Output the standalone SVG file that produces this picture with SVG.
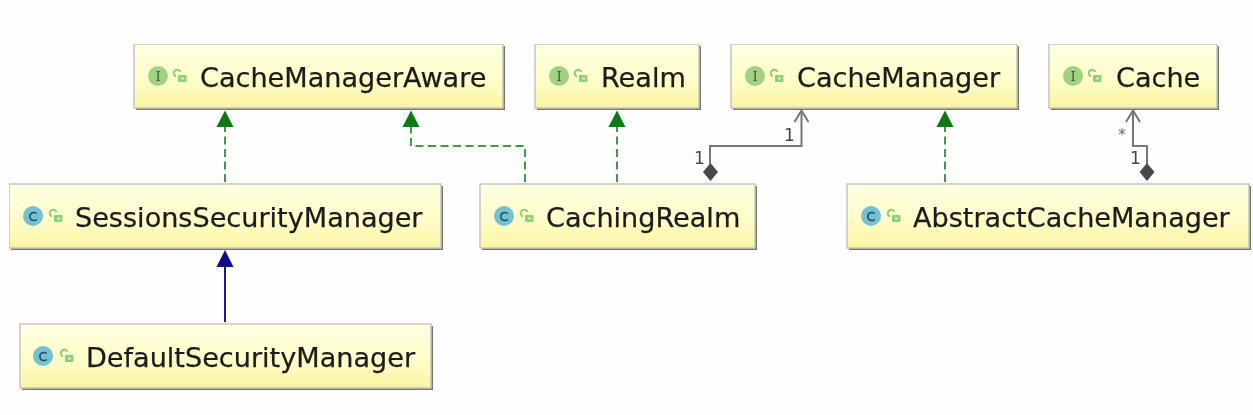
<svg xmlns="http://www.w3.org/2000/svg" width="1253" height="415" viewBox="0 0 1253 415">
<style>
.box{fill:url(#g);stroke:#c6c6be;stroke-width:1.5}
.sh{fill:#77776c}
.t{font-family:"DejaVu Sans",sans-serif;font-size:27.1px;fill:#1e1e1c;stroke:#1e1e1c;stroke-width:.25}
.ic{font-family:"DejaVu Serif",serif;font-size:12px;fill:#444;text-anchor:middle}
.cc{font-family:"DejaVu Sans",sans-serif;font-size:13px;fill:#1f4d5c;text-anchor:middle;stroke:#1f4d5c;stroke-width:.3}
.i{fill:#a1d27f}
.c{fill:#74c0d3}
.lk{fill:none;stroke:#8fd06f;stroke-width:2}
.lb{fill:#8fd06f}
.n{font-family:"DejaVu Sans",sans-serif;font-size:17px;fill:#444;text-anchor:middle}
.st{font-family:"DejaVu Sans",sans-serif;font-size:15px;fill:#666;text-anchor:middle}
.dash{fill:none;stroke:#46964c;stroke-width:2;stroke-dasharray:8 4.5}
.gr{fill:none;stroke:#777;stroke-width:2}
</style>
<defs>
<linearGradient id="g" x1="0" y1="0" x2="0" y2="1">
<stop offset="0" stop-color="#ffffe2"/><stop offset="0.6" stop-color="#fefdc8"/><stop offset="1" stop-color="#faf4a0"/>
</linearGradient>
<filter id="soft" x="0" y="0" width="100%" height="100%"><feGaussianBlur stdDeviation="0.45"/></filter>
<g id="lock"><path class="lk" d="M-3 1.500A3.500 3.500 0 1 1 1.500 -3"/><rect x="-1" y="0" width="8.500" height="7" rx="1" class="lb"/><rect x="2" y="2.500" width="3" height="2" fill="#d8efc4"/></g>
</defs>
<rect width="1253" height="415" fill="#fdfdfe"/>
<g filter="url(#soft)">
<g id="connectors">
<path class="dash" d="M225 182V125"/>
<path d="M216.500 127L225 110.500L233.500 127Z" fill="#0a7a14"/>
<path class="dash" d="M525 182V146H411V125"/>
<path d="M402.500 127L411 110.500L419.500 127Z" fill="#0a7a14"/>
<path class="dash" d="M617 182V125"/>
<path d="M608.500 127L617 110.500L625.500 127Z" fill="#0a7a14"/>
<path class="dash" d="M945 182V125"/>
<path d="M936.500 127L945 110.500L953.500 127Z" fill="#0a7a14"/>
<path d="M225 322V265" fill="none" stroke="#1c1c86" stroke-width="2"/>
<path d="M216.500 267L225 250L233.500 267Z" fill="#0a0a8a"/>
<path class="gr" d="M710 164V146H801.500V111"/>
<path class="gr" d="M794.500 122L801.500 110.500L808.500 122"/>
<path d="M710.500 163L718 172L710.500 181L703 172Z" fill="#4a4a4a"/>
<path class="gr" d="M1147 164V146H1133V111"/>
<path class="gr" d="M1126 122L1133 110.500L1140 122"/>
<path d="M1147 163L1154.500 172L1147 181L1139.500 172Z" fill="#4a4a4a"/>
<text class="n" x="699.500" y="164">1</text>
<text class="n" x="789.500" y="141">1</text>
<text class="st" x="1122" y="140">*</text>
<text class="n" x="1135.500" y="164">1</text>
</g>
<g id="CacheManagerAware">
<rect class="sh" x="136" y="46" width="369" height="64"/><rect class="box" x="134" y="44" width="369" height="64"/>
<circle class="i" cx="158" cy="76" r="10"/><text class="ic" x="158" y="80.500">I</text><use href="#lock" x="179" y="75"/>
<text class="t" x="200" y="86.500">CacheManagerAware</text>
</g>
<g id="Realm">
<rect class="sh" x="537" y="46" width="164" height="64"/><rect class="box" x="535" y="44" width="164" height="64"/>
<circle class="i" cx="559" cy="76" r="10"/><text class="ic" x="559" y="80.500">I</text><use href="#lock" x="580" y="75"/>
<text class="t" x="601" y="86.500">Realm</text>
</g>
<g id="CacheManager">
<rect class="sh" x="733" y="46" width="286" height="64"/><rect class="box" x="731" y="44" width="286" height="64"/>
<circle class="i" cx="755" cy="76" r="10"/><text class="ic" x="755" y="80.500">I</text><use href="#lock" x="776" y="75"/>
<text class="t" x="797" y="86.500">CacheManager</text>
</g>
<g id="Cache">
<rect class="sh" x="1051" y="46" width="168" height="64"/><rect class="box" x="1049" y="44" width="168" height="64"/>
<circle class="i" cx="1073" cy="76" r="10"/><text class="ic" x="1073" y="80.500">I</text><use href="#lock" x="1094" y="75"/>
<text class="t" x="1116" y="86.500">Cache</text>
</g>
<g id="SessionsSecurityManager">
<rect class="sh" x="11" y="186" width="432" height="64"/><rect class="box" x="9" y="184" width="432" height="64"/>
<circle class="c" cx="33" cy="216" r="10"/><text class="cc" x="33" y="220.500">C</text><use href="#lock" x="55" y="215"/>
<text class="t" x="75" y="226.500">SessionsSecurityManager</text>
</g>
<g id="CachingRealm">
<rect class="sh" x="482" y="186" width="275" height="64"/><rect class="box" x="480" y="184" width="275" height="64"/>
<circle class="c" cx="504" cy="216" r="10"/><text class="cc" x="504" y="220.500">C</text><use href="#lock" x="526" y="215"/>
<text class="t" x="546" y="226.500">CachingRealm</text>
</g>
<g id="AbstractCacheManager">
<rect class="sh" x="849" y="186" width="402" height="64"/><rect class="box" x="847" y="184" width="402" height="64"/>
<circle class="c" cx="871" cy="216" r="10"/><text class="cc" x="871" y="220.500">C</text><use href="#lock" x="893" y="215"/>
<text class="t" x="913" y="226.500">AbstractCacheManager</text>
</g>
<g id="DefaultSecurityManager">
<rect class="sh" x="22" y="326" width="411" height="64"/><rect class="box" x="20" y="324" width="411" height="64"/>
<circle class="c" cx="43" cy="356" r="10"/><text class="cc" x="43" y="360.500">C</text><use href="#lock" x="66" y="355"/>
<text class="t" x="86" y="366.500">DefaultSecurityManager</text>
</g>
</g>
</svg>
